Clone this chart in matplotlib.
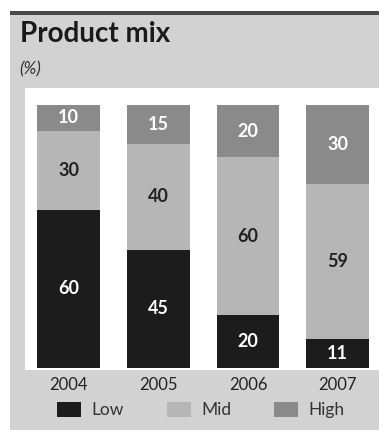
import matplotlib.pyplot as plt
from matplotlib.patches import Rectangle, Patch

years = ['2004', '2005', '2006', '2007']
low = [60, 45, 20, 11]
mid = [30, 40, 60, 59]
high = [10, 15, 20, 30]

c_low = '#1c1c1c'
c_mid = '#b6b6b6'
c_high = '#8a8a8a'
panel = '#d2d2d2'

plt.rcParams['font.family'] = ['Lato', 'DejaVu Sans']

W, H = 379, 430
fig = plt.figure(figsize=(W / 100, H / 100), dpi=100)
fig.patch.set_facecolor('white')

# grey panel and dark rule at the top
fig.patches.append(Rectangle((10 / W, 0), 1, 1 - 15 / H, transform=fig.transFigure,
                             facecolor=panel, edgecolor='none', zorder=-2))
fig.patches.append(Rectangle((10 / W, 1 - 15 / H), 1, 4 / H, transform=fig.transFigure,
                             facecolor='#4a4a4a', edgecolor='none', zorder=-2))

fig.text(20 / W, 1 - 34 / H, 'Product mix', fontsize=20, fontweight='bold',
         color='#1a1a1a', va='center', ha='left')
fig.text(19 / W, 1 - 69 / H, '(%)', fontsize=12.5, style='italic',
         color='#333333', va='center', ha='left')

ax = fig.add_axes([25 / W, (H - 370) / H, (W - 25) / W, 282 / H])
ax.set_facecolor('white')

x = range(len(years))
bw = 0.70
ax.bar(x, low, bw, color=c_low, label='Low')
ax.bar(x, mid, bw, bottom=low, color=c_mid, label='Mid')
bottom_high = [a + b for a, b in zip(low, mid)]
ax.bar(x, high, bw, bottom=bottom_high, color=c_high, label='High')

for i in x:
    ax.text(i, low[i] / 2, str(low[i]), ha='center', va='center',
            color='white', fontsize=13, fontweight='bold')
    ax.text(i, low[i] + mid[i] / 2, str(mid[i]), ha='center', va='center',
            color='#222222', fontsize=13, fontweight='bold')
    ax.text(i, bottom_high[i] + high[i] / 2, str(high[i]), ha='center', va='center',
            color='white', fontsize=13, fontweight='bold')

ax.set_xlim(-0.485, 3.46)
ax.set_ylim(-0.8, 106.4)
ax.set_yticks([])
ax.set_xticks(list(x))
ax.set_xticklabels(years, fontsize=12, color='#222222')
ax.tick_params(axis='x', length=0, pad=5)
for s in ax.spines.values():
    s.set_visible(False)

handles = [Patch(facecolor=c_low), Patch(facecolor=c_mid), Patch(facecolor=c_high)]
fig.legend(handles, ['Low', 'Mid', 'High'], loc='center', ncol=3,
           bbox_to_anchor=(201 / W, 1 - 410 / H), frameon=False, fontsize=12.5,
           handlelength=1.4, handleheight=1.0, handletextpad=0.6, columnspacing=2.45,
           labelcolor='#333333')

fig.savefig('out.png', dpi=100)
